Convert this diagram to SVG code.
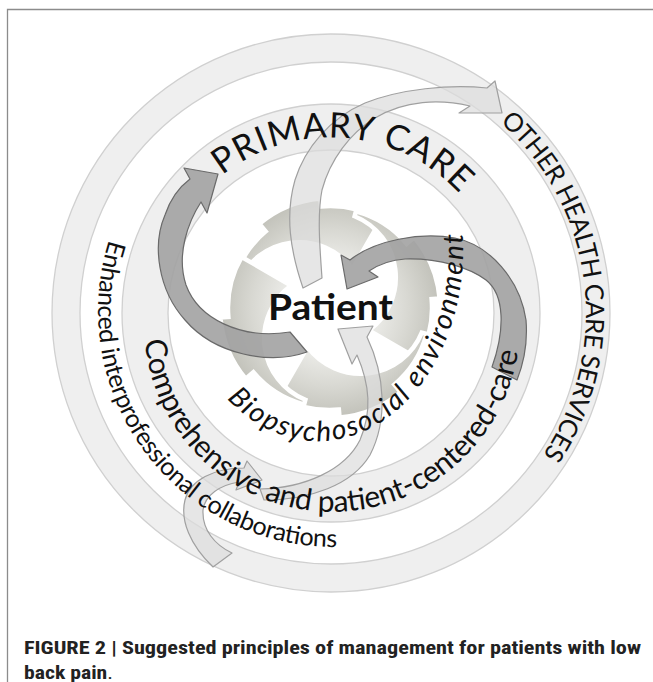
<svg xmlns="http://www.w3.org/2000/svg" width="653" height="682" viewBox="0 0 653 682">
<defs>
<style>
.band{fill:none;stroke:#efefef}
.edge{fill:none;stroke:#d0d0d0;stroke-width:1.3}
.lbl{font-family:Lato,'Open Sans','Liberation Sans',sans-serif;fill:#111}
.dark{fill:#a2a2a2;fill-opacity:.9;stroke:#6a6a6a;stroke-width:1.2;stroke-linejoin:round}
.light{fill:#dcdcdc;fill-opacity:.72;stroke:#a0a0a0;stroke-width:1.2;stroke-linejoin:round}
.blade{fill:url(#bladeGrad);stroke:#ffffff;stroke-width:4.5;stroke-linejoin:miter}
.cap{font-family:'Liberation Sans Narrow','Roboto Condensed','Liberation Sans',Arial,sans-serif;font-weight:bold;font-size:18px;fill:#222}
</style>
<radialGradient id="bladeGrad" gradientUnits="userSpaceOnUse" cx="0" cy="0" r="112">
<stop offset="0.35" stop-color="#f0f0ed"/>
<stop offset="0.7" stop-color="#d8d8d2"/>
<stop offset="1" stop-color="#c0c0b8"/>
</radialGradient>
<path id="bladeShape" d="M 95,0 L 100,0 A 100 100 0 0 1 81.92,57.36 L 90.11,63.09 A 110 110 0 0 1 37.62,103.37 L 34.89,95.85 A 102 102 0 0 1 -26.4,98.53 L -11.65,43.47 A 66 66 0 0 0 95,0 Z"/>
<path id="pPrimary" d="M 196.6,200.2 A 175.5 175.5 0 0 1 495.9,253.0"/>
<path id="pOther" d="M 458.5,92.2 A 255 255 0 0 1 494.9,508.3"/>
<path id="pEnh" d="M 129.6,193 A 236 236 0 0 0 375,543.4"/>
<path id="pComp" d="M 144.7,307.6 A 188 188 0 1 0 519.3,307.6"/>
<path id="pBio" d="M 206.9,372.8 A 145 191 0 0 0 458.1,200.6"/>
</defs>
<rect x="0" y="0" width="653" height="682" fill="#ffffff"/>
<path d="M 7.5,682 V 9.5 H 653" fill="none" stroke="#8c8c8c" stroke-width="1.3"/>

<g id="other-services-ring">
<circle cx="331" cy="313" r="265" class="band" stroke-width="28"/>
<circle cx="331" cy="313" r="279" class="edge"/>
<circle cx="331" cy="313" r="251" class="edge"/>
</g>
<g id="primary-care-ring">
<circle cx="331" cy="313" r="186" class="band" stroke-width="46"/>
<circle cx="331" cy="313" r="209" class="edge"/>
<circle cx="331" cy="313" r="163" class="edge"/>
</g>
<g id="patient-gear">
<use href="#bladeShape" class="blade" transform="translate(330,308) rotate(195)"/>
<use href="#bladeShape" class="blade" transform="translate(330,308) rotate(285)"/>
<use href="#bladeShape" class="blade" transform="translate(330,308) rotate(15)"/>
<use href="#bladeShape" class="blade" transform="translate(330,308) rotate(105)"/>
</g>

<g id="connectors">
<path class="dark" d="M 307,352 C 270,365 215,355 185,320 C 158,290 152,245 165,215 C 170,200 178,188 190,179 L 184,168 L 218,174 L 207,213 L 201,202 C 188,222 176,255 186,285 C 198,318 240,340 290,332 Z"/>
<path class="dark" d="M 492,367 C 505,330 505,295 486,280 C 470,268 440,258 405,259 C 390,260 378,265 369,271 L 378,277 L 347,289 L 341,255 L 350,260 C 375,240 420,232 455,238 C 490,245 520,280 526,320 C 528,345 523,365 517,380 Z"/>
<path class="light" d="M 303,288 C 290,250 285,215 295,180 C 305,148 330,118 365,103 C 400,89 450,84 487,88 L 495,81 L 502,113 L 459,113 L 470,106 C 440,99 405,100 375,118 C 350,133 330,160 322,190 C 317,215 320,250 322,278 Z"/>
<path class="light" d="M 213,567 C 190,545 180,520 185,500 C 190,480 214,468 244,468 L 247,461 L 262,480 L 236,490 L 239,482 C 220,485 205,495 203,510 C 202,530 215,545 232,553 Z"/>
<path class="light" d="M 260,489 C 305,488 345,470 360,440 C 372,412 370,385 357,355 L 352,364 L 338,329 L 373,326 L 367,337 C 385,375 388,420 370,455 C 352,485 310,500 264,500 Z"/>
</g>

<g id="labels">
<text class="lbl" font-size="35"><textPath href="#pPrimary" startOffset="35.8" textLength="261" lengthAdjust="spacing">PRIMARY CARE</textPath></text>
<text class="lbl" font-size="25.5"><textPath href="#pOther" startOffset="51.2" textLength="366" lengthAdjust="spacing">OTHER HEALTH CARE SERVICES</textPath></text>
<text class="lbl" font-size="25"><textPath href="#pEnh" startOffset="51.1" textLength="446" lengthAdjust="spacing">Enhanced interprofessional collaborations</textPath></text>
<text class="lbl" font-size="30"><textPath href="#pComp" startOffset="32.8" textLength="546" lengthAdjust="spacing">Comprehensive and patient-centered-care</textPath></text>
<text class="lbl" font-size="28" font-style="italic"><textPath href="#pBio" startOffset="32.7" textLength="385" lengthAdjust="spacing">Biopsychosocial environment</textPath></text>
</g>
<g id="patient">
<text class="lbl" x="330.5" y="320" font-size="36" font-weight="bold" text-anchor="middle" textLength="125" lengthAdjust="spacingAndGlyphs">Patient</text>
</g>
<g id="caption">
<text class="cap" x="24" y="654" textLength="617" lengthAdjust="spacingAndGlyphs">FIGURE 2 | Suggested principles of management for patients with low</text>
<text class="cap" x="24" y="679" textLength="89" lengthAdjust="spacingAndGlyphs">back pain<tspan font-weight="normal">.</tspan></text>
</g>
</svg>
